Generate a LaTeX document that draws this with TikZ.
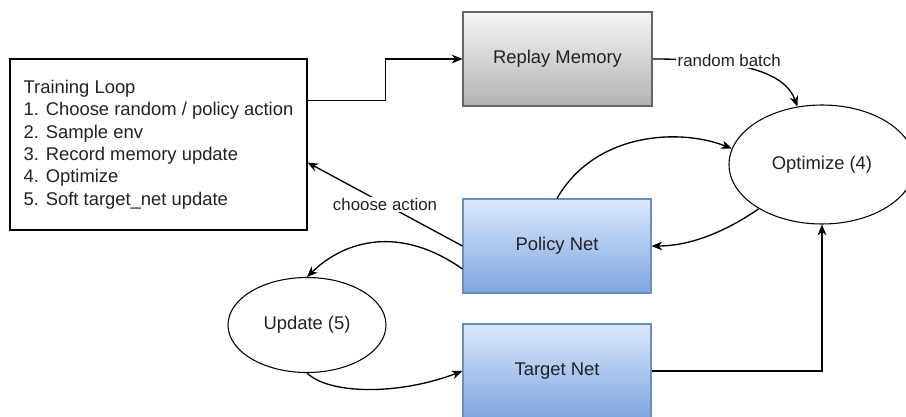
\documentclass[tikz,border=0pt]{standalone}
\usepackage{fontspec}
\setmainfont{Liberation Sans}
\usetikzlibrary{arrows.meta}
\usetikzlibrary{shapes.geometric}
\definecolor{memtop}{HTML}{F5F5F5}
\definecolor{membot}{HTML}{B3B3B3}
\definecolor{memline}{HTML}{666666}
\definecolor{nettop}{HTML}{DAE8FC}
\definecolor{netbot}{HTML}{7EA6E0}
\definecolor{netline}{HTML}{6C8EBF}
\definecolor{ink}{HTML}{222222}

\begin{document}
\begin{tikzpicture}[x=0.75pt,y=-0.75pt,
  every node/.style={text=ink,font=\fontsize{13.8}{16.8}\selectfont},
  netbox/.style={draw=netline,line width=0.8pt,top color=nettop,bottom color=netbot,minimum width=141pt,minimum height=70.5pt},
  membox/.style={draw=memline,line width=0.8pt,top color=memtop,bottom color=membot,minimum width=141.75pt,minimum height=70.5pt},
  stepoval/.style={draw,ellipse,line width=0.8pt},
  edgelabel/.style={fill=white,inner sep=1pt,font=\fontsize{12.65}{15}\selectfont},
  flow/.style={draw,line width=1pt,-{Stealth[length=8pt,width=6.5pt,inset=2.5pt]}}]
  \useasboundingbox (0,0) rectangle (906,417);
  %boxes
  \node[draw,line width=0.8pt,align=left,minimum width=222.75pt,minimum height=128.25pt] (loop) at (158.5,144.5) {Training Loop\\1. Choose random / policy action\\2. Sample env\\3. Record memory update\\4. Optimize\\5. Soft target\_net update};
  \node[membox] (replay) at (557.5,59) {Replay Memory};
  \node[netbox] (policy) at (557,246) {Policy Net};
  \node[netbox] (target) at (557,371) {Target Net};
  %ellipses
  \node[stepoval,minimum width=139.5pt,minimum height=89.25pt] (optimize) at (822,164.5) {Optimize (4)};
  \node[stepoval,minimum width=118.5pt,minimum height=71.25pt] (update) at (307,325) {Update (5)};
  %connectors
  \path[flow] ([yshift=-31.5pt]loop.north east) -- ++(78,0) |- (replay.west);
  \path[flow] (replay.east) .. controls (740,59) and (785,72) .. node[edgelabel,pos=0.35,yshift=3pt]{random batch} (optimize.113);
  \path[flow] (policy.north) .. controls (595,132) and (680,128) .. (optimize.170);
  \path[flow] (optimize.215) .. controls (725,232) and (690,246) .. (policy.east);
  \path[flow] (target.east) -| (optimize.south);
  \path[flow] (policy.west) -- node[edgelabel]{choose action} ([yshift=-13.5pt]loop.east);
  \path[flow] ([yshift=-17.25pt]policy.west) .. controls (400,225) and (345,240) .. (update.north);
  \path[flow] (update.south) .. controls (330,395) and (400,395) .. (target.west);
\end{tikzpicture}
\end{document}
